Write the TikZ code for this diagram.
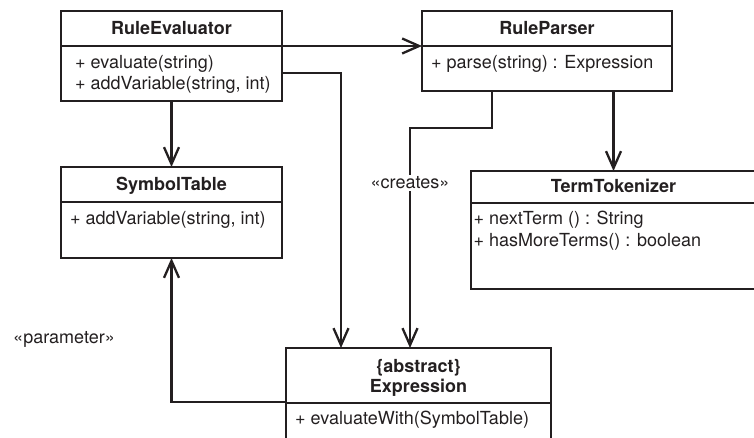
\documentclass[tikz,border=0pt]{standalone}
\usepackage{fontspec}
\setmainfont{TeX Gyre Heros}
\usetikzlibrary{arrows.meta,calc}
\definecolor{ink}{HTML}{231F20}
\begin{document}
\begin{tikzpicture}[x=1pt,y=-1pt,
  box/.style={draw=ink, line width=2.6pt, inner sep=0pt, outer sep=0pt, anchor=north west},
  div/.style={draw=ink, line width=1.3pt},
  conn/.style={draw=ink, line width=2.3pt},
  arr/.style={conn, -{Straight Barb[length=17pt,width=15pt]}},
  ttl/.style={font=\fontsize{18}{21}\selectfont\bfseries, text=ink, anchor=base, inner sep=0pt},
  mth/.style={font=\fontsize{18}{21}\selectfont, text=ink, anchor=base west, inner sep=0pt},
  lbl/.style={font=\fontsize{18}{21}\selectfont, text=ink, anchor=base, inner sep=0pt}]
\useasboundingbox (0,0) rectangle (754,438);
\clip (0,0) rectangle (754,438);

% RuleEvaluator
\node[box, minimum width=221pt, minimum height=90pt] (re) at (61,11) {};
\draw[div] ([yshift=-35pt]re.north west) -- ([yshift=-35pt]re.north east);
\node[ttl] (reT) at ([yshift=-24pt]re.north) {RuleEvaluator};
\node[mth] (reM1) at ([shift={(14pt,-58pt)}]re.north west) {+ evaluate(string)};
\node[mth] (reM2) at ([shift={(14pt,-79pt)}]re.north west) {+ addVariable(string, int)};

% RuleParser
\node[box, minimum width=250pt, minimum height=80pt] (rp) at (422,11) {};
\draw[div] ([yshift=-35pt]rp.north west) -- ([yshift=-35pt]rp.north east);
\node[ttl] (rpT) at ([yshift=-24pt]rp.north) {RuleParser};
\node[mth] (rpM1) at ([shift={(9pt,-58pt)}]rp.north west) {+ parse(string) : Expression};

% SymbolTable
\node[box, minimum width=221pt, minimum height=91pt] (st) at (61,167) {};
\draw[div] ([yshift=-35pt]st.north west) -- ([yshift=-35pt]st.north east);
\node[ttl] (stT) at ([yshift=-24pt]st.north) {SymbolTable};
\node[mth] (stM1) at ([shift={(9pt,-58pt)}]st.north west) {+ addVariable(string, int)};

% TermTokenizer
\node[box, minimum width=285pt, minimum height=118pt] (tt) at (471,171) {};
\draw[div] ([yshift=-32pt]tt.north west) -- ([yshift=-32pt]tt.north east);
\node[ttl] (ttT) at ([yshift=-22pt]tt.north) {TermTokenizer};
\node[mth] (ttM1) at ([shift={(2.5pt,-54pt)}]tt.north west) {+ nextTerm () : String};
\node[mth] (ttM2) at ([shift={(2.5pt,-76pt)}]tt.north west) {+ hasMoreTerms() : boolean};

% Expression
\node[box, minimum width=265pt, minimum height=100pt] (ex) at (286,348) {};
\draw[div] ([yshift=-55pt]ex.north west) -- ([yshift=-55pt]ex.north east);
\node[ttl] (exT1) at ([yshift=-24pt]ex.north) {\{abstract\}};
\node[ttl] (exT2) at ([yshift=-44pt]ex.north) {Expression};
\node[mth] (exM1) at ([shift={(9pt,-76pt)}]ex.north west) {+ evaluateWith(SymbolTable)};

% connectors
\draw[arr] ([yshift=-35pt]re.north east) -- ([yshift=-35pt]rp.north west);
\draw[arr] ([yshift=-62pt]re.north east) -| ([xshift=55pt]ex.north west);
\draw[arr] (re.south) -- (st.north);
\draw[arr] (rp.south -| tt.north) -- (tt.north);
\draw[arr] ([xshift=-55pt]rp.south) -- ++(0,37) -| ([xshift=124pt]ex.north west);
\node[lbl, fill=white, inner sep=2pt] (cr) at (410,189) {«creates»};
\draw[arr] ([yshift=-54pt]ex.north west) -| (st.south);
\node[lbl] (pa) at (64,343) {«parameter»};
\end{tikzpicture}
\end{document}
